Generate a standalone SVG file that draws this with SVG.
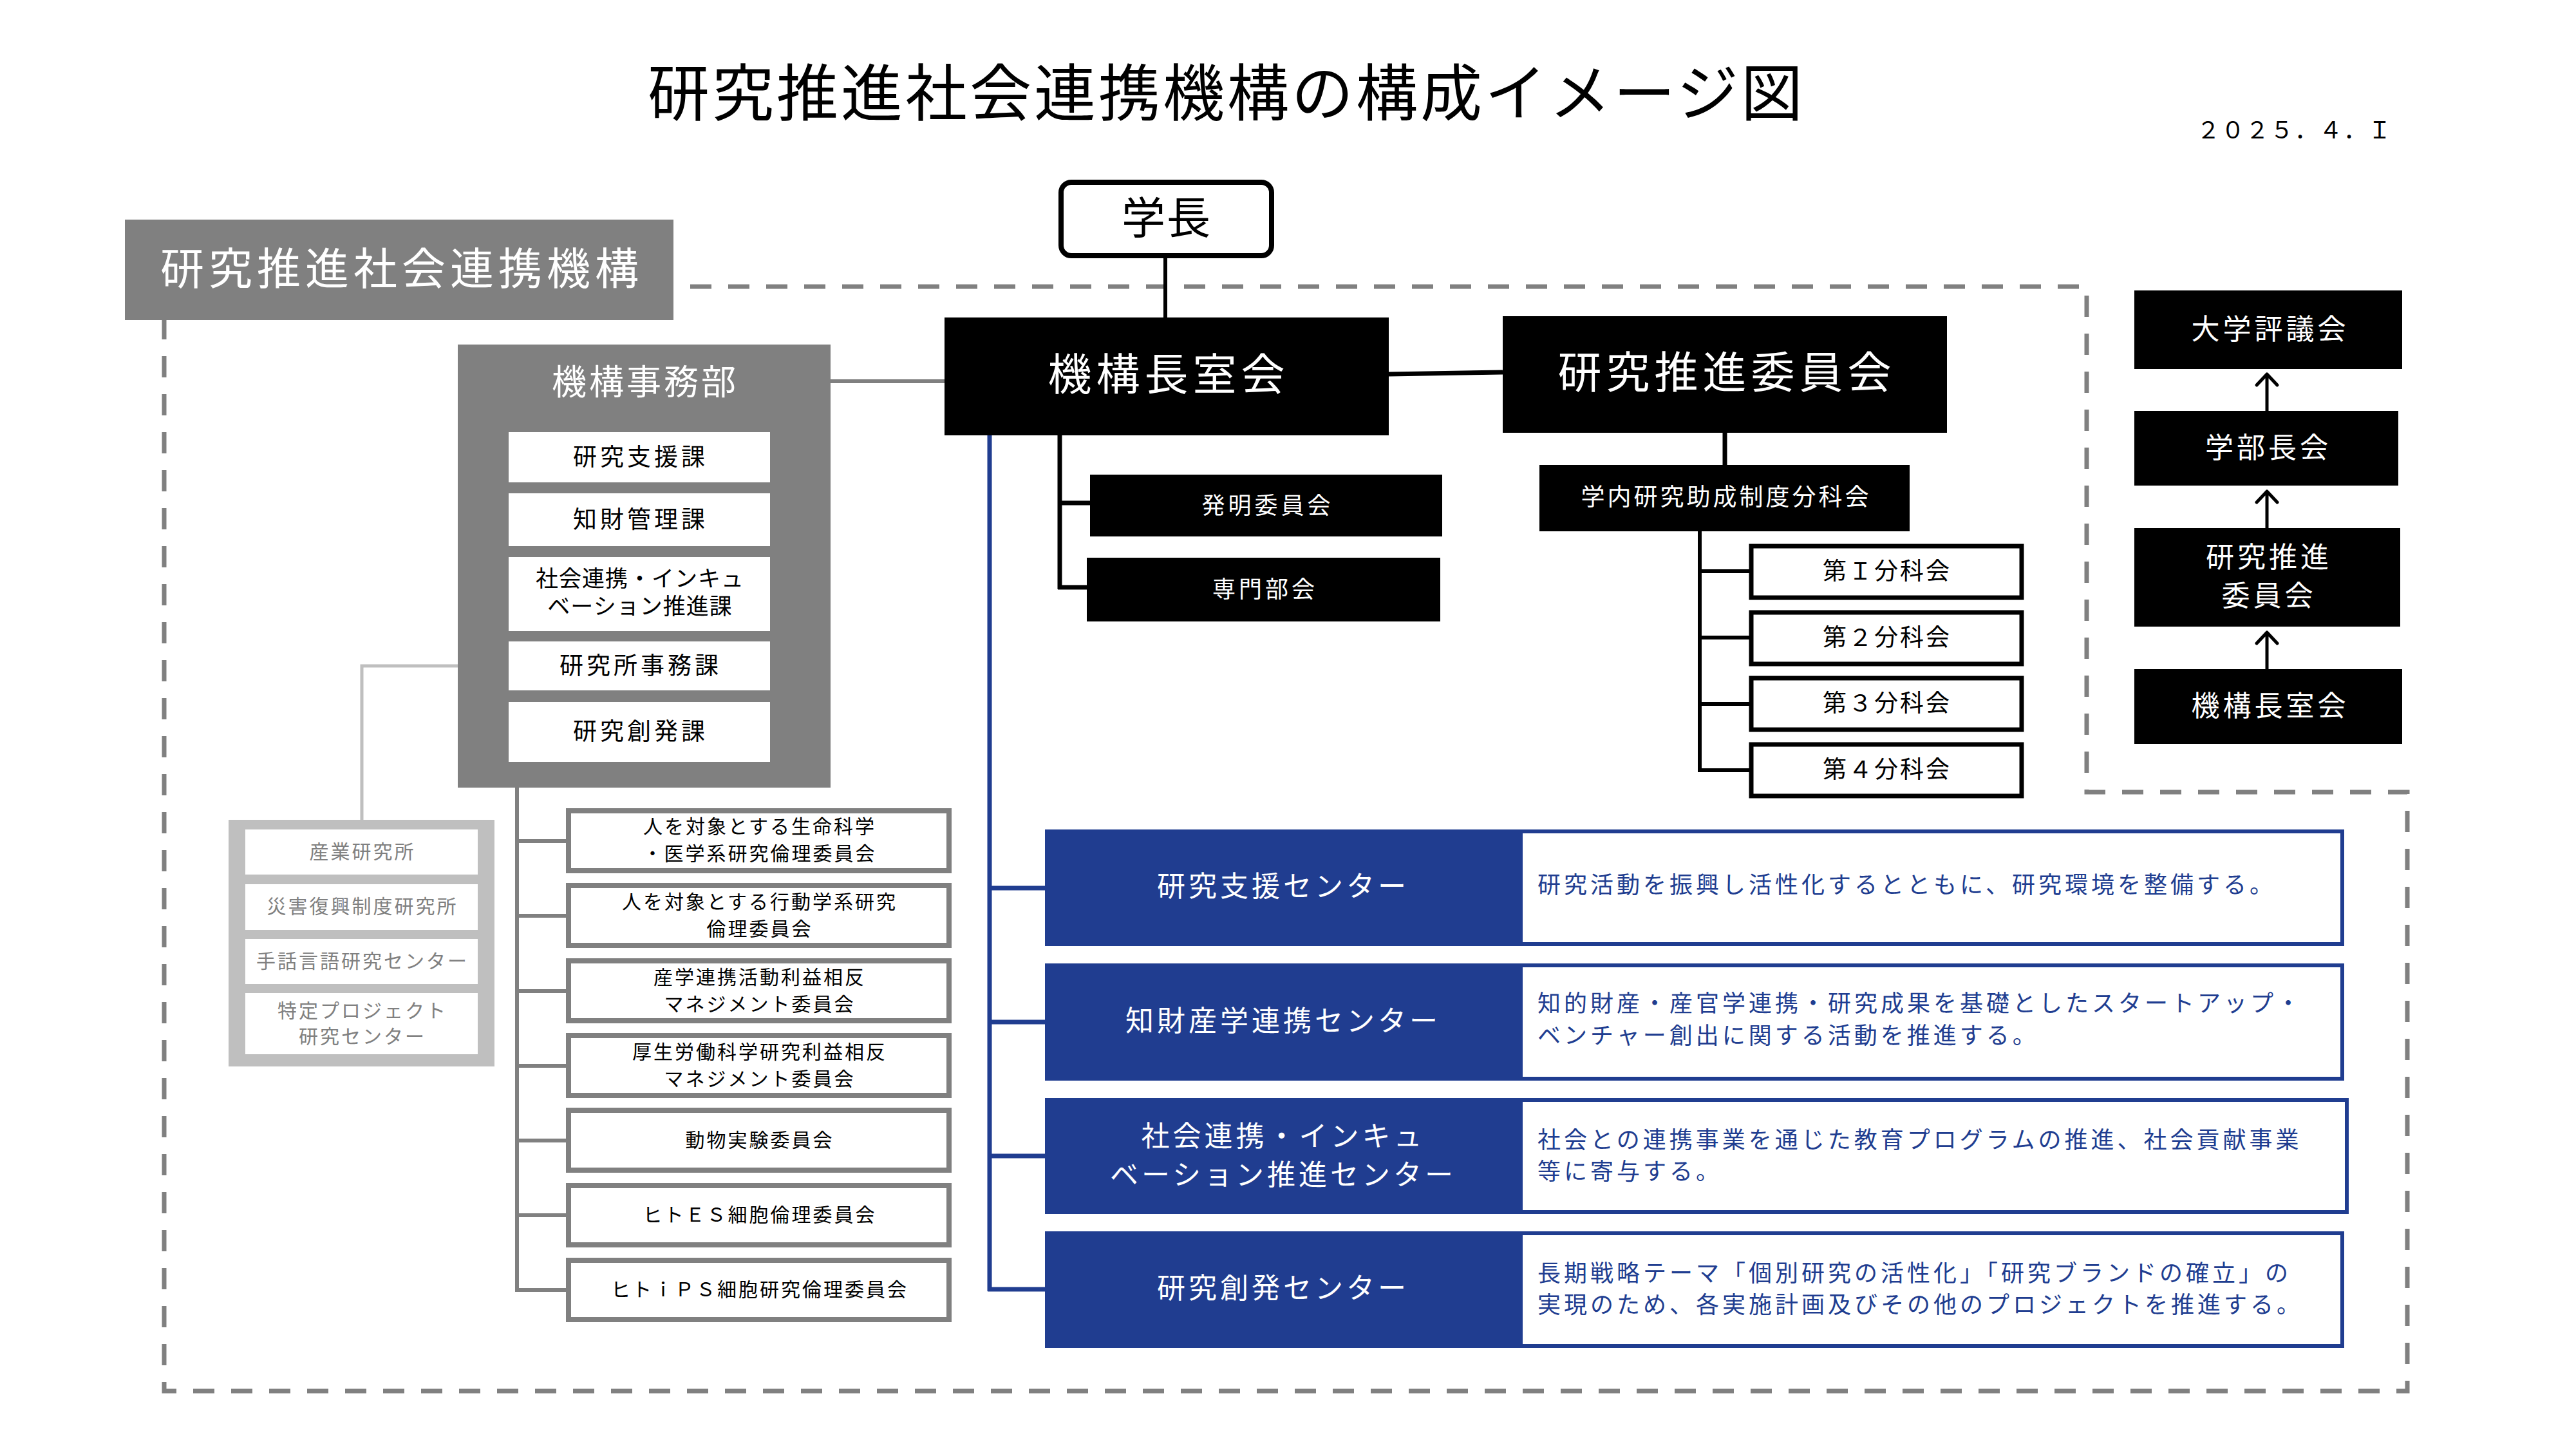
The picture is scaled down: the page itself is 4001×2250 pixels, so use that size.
<svg xmlns="http://www.w3.org/2000/svg" width="4001" height="2250" viewBox="0 0 4001 2250">
<style>
text{font-family:"Noto Sans CJK JP","Noto Sans CJK SC",sans-serif;dominant-baseline:central;text-anchor:middle;transform:translateY(-0.09em)}
.w{fill:#fff}
.k{fill:#000}
.g{fill:#808080}
.b{fill:#203d90}
.blk{fill:#000}
.gbox{fill:#808080}
.blue{fill:#203d90}
.f68{font-size:68px;letter-spacing:7px}
.f44{font-size:44px;letter-spacing:5px}
.f37{font-size:37px;letter-spacing:5px}
.f36{font-size:36px;letter-spacing:5px}
.f30{font-size:30px;letter-spacing:3px}
.cm{fill:#fff;stroke:#808080;stroke-width:8}
.sub{fill:#fff;stroke:#000;stroke-width:7}
.desc{fill:#fff;stroke:#203d90;stroke-width:6}
.ln{fill:none;stroke:#000;stroke-width:7}
.gl{fill:none;stroke:#808080;stroke-width:6}
.bl{fill:none;stroke:#203d90;stroke-width:7}
.ar{fill:none;stroke:#000;stroke-width:5;stroke-linejoin:round;stroke-linecap:round}
</style>

<text x="1905" y="146" style="font-size:96px;letter-spacing:4px">研究推進社会連携機構の構成イメージ図</text>
<text x="3412" y="202" style="font-size:36px;letter-spacing:2px;text-anchor:start">２０２５．４．Ｉ</text>

<g id="connectors">
  <path d="M1072,445 H3241 V1230 H3739 V2160 H255 V497" fill="none" stroke="#808080" stroke-width="7" stroke-dasharray="33 26"/>
  <line class="ln" x1="1810" y1="401" x2="1810" y2="493" style="stroke-width:6"/>
  <line class="ln" x1="2157" y1="581" x2="2334" y2="578"/>
  <line class="gl" x1="1290" y1="592" x2="1467" y2="592"/>
  <path class="ln" d="M1646,676 V915 M1643,781 H1693 M1643,912 H1688" style="stroke-width:7"/>
  <line class="ln" x1="2679" y1="672" x2="2679" y2="722"/>
  <path class="ln" d="M2640,825 V1197 M2637,887 H2717 M2637,990 H2717 M2637,1093 H2717 M2637,1196 H2717" style="stroke-width:6"/>
  <path d="M790,1034 H562 V1273" fill="none" stroke="#bfbfbf" stroke-width="5"/>
  <path class="gl" d="M803,1223 V2006 M800,1306 H879 M800,1422 H879 M800,1539 H879 M800,1655 H879 M800,1771 H879 M800,1887 H879 M800,2003 H879"/>
  <path class="bl" d="M1537,676 V2005 M1534,1379 H1623 M1534,1587 H1623 M1534,1795 H1623 M1534,2002 H1623"/>
  <path class="ar" d="M3521,638 V582 M3505,598 L3521,581 L3537,598"/>
  <path class="ar" d="M3521,820 V764 M3505,780 L3521,763 L3537,780"/>
  <path class="ar" d="M3521,1039 V983 M3505,999 L3521,982 L3537,999"/>
</g>

<g id="gakucho">
  <rect x="1648" y="283" width="327" height="114" rx="16" fill="#fff" stroke="#000" stroke-width="8"/>
  <text x="1812" y="340" style="font-size:68px;letter-spacing:2px">学長</text>
</g>

<g id="kiko-label">
  <rect class="gbox" x="194" y="341" width="852" height="156"/>
  <text class="w f68" x="624" y="419">研究推進社会連携機構</text>
</g>

<g id="kikochoshitsukai">
  <rect class="blk" x="1467" y="493" width="690" height="183"/>
  <text class="w f68" x="1815" y="583">機構長室会</text>
</g>

<g id="kenkyusuishin">
  <rect class="blk" x="2334" y="491" width="690" height="181"/>
  <text class="w f68" x="2682" y="580">研究推進委員会</text>
</g>

<g id="hatsumei">
  <rect class="blk" x="1693" y="737" width="547" height="96"/>
  <text class="w f36" x="1969" y="785">発明委員会</text>
</g>
<g id="senmonbukai">
  <rect class="blk" x="1688" y="866" width="549" height="99"/>
  <text class="w f36" x="1965" y="915">専門部会</text>
</g>

<g id="gakunai">
  <rect class="blk" x="2391" y="722" width="575" height="103"/>
  <text class="w f37" x="2681" y="772" style="letter-spacing:4px">学内研究助成制度分科会</text>
</g>
<g id="bunkakai1"><rect class="sub" x="2720" y="848" width="420" height="80"/><text class="f37" x="2931" y="887" style="letter-spacing:3px">第Ｉ分科会</text></g>
<g id="bunkakai2"><rect class="sub" x="2720" y="951" width="420" height="80"/><text class="f37" x="2931" y="990" style="letter-spacing:3px">第２分科会</text></g>
<g id="bunkakai3"><rect class="sub" x="2720" y="1053" width="420" height="80"/><text class="f37" x="2931" y="1092" style="letter-spacing:3px">第３分科会</text></g>
<g id="bunkakai4"><rect class="sub" x="2720" y="1156" width="420" height="80"/><text class="f37" x="2931" y="1195" style="letter-spacing:3px">第４分科会</text></g>

<g id="jimubu">
  <rect class="gbox" x="711" y="535" width="579" height="688"/>
  <text class="w" x="1002" y="594" style="font-size:54px;letter-spacing:4px">機構事務部</text>
  <rect fill="#fff" x="790" y="671" width="406" height="78"/>
  <text class="f37" x="995" y="710">研究支援課</text>
  <rect fill="#fff" x="790" y="766" width="406" height="82"/>
  <text class="f37" x="995" y="807">知財管理課</text>
  <rect fill="#fff" x="790" y="865" width="406" height="115"/>
  <text x="994" y="899" style="font-size:35px;letter-spacing:1px">社会連携・インキュ</text>
  <text x="994" y="942" style="font-size:35px;letter-spacing:1px">ベーション推進課</text>
  <rect fill="#fff" x="790" y="996" width="406" height="76"/>
  <text class="f37" x="995" y="1034">研究所事務課</text>
  <rect fill="#fff" x="790" y="1090" width="406" height="93"/>
  <text class="f37" x="995" y="1136">研究創発課</text>
</g>

<g id="kenkyusho">
  <rect fill="#bfbfbf" x="355" y="1273" width="413" height="383"/>
  <rect fill="#fff" x="381" y="1288" width="361" height="70"/>
  <text class="g f30" x="563" y="1323">産業研究所</text>
  <rect fill="#fff" x="381" y="1373" width="361" height="71"/>
  <text class="g f30" x="563" y="1408">災害復興制度研究所</text>
  <rect fill="#fff" x="381" y="1458" width="361" height="70"/>
  <text class="g f30" x="563" y="1493">手話言語研究センター</text>
  <rect fill="#fff" x="381" y="1542" width="361" height="95"/>
  <text class="g f30" x="563" y="1570">特定プロジェクト</text>
  <text class="g f30" x="563" y="1610">研究センター</text>
</g>

<g id="committee1"><rect class="cm" x="883" y="1259" width="591" height="93"/>
  <text class="f30" x="1180" y="1284">人を対象とする生命科学</text>
  <text class="f30" x="1180" y="1326">・医学系研究倫理委員会</text></g>
<g id="committee2"><rect class="cm" x="883" y="1375" width="591" height="93"/>
  <text class="f30" x="1180" y="1401">人を対象とする行動学系研究</text>
  <text class="f30" x="1180" y="1443">倫理委員会</text></g>
<g id="committee3"><rect class="cm" x="883" y="1492" width="591" height="93"/>
  <text class="f30" x="1180" y="1518">産学連携活動利益相反</text>
  <text class="f30" x="1180" y="1560">マネジメント委員会</text></g>
<g id="committee4"><rect class="cm" x="883" y="1608" width="591" height="93"/>
  <text class="f30" x="1180" y="1634">厚生労働科学研究利益相反</text>
  <text class="f30" x="1180" y="1676">マネジメント委員会</text></g>
<g id="committee5"><rect class="cm" x="883" y="1724" width="591" height="93"/>
  <text class="f30" x="1180" y="1771">動物実験委員会</text></g>
<g id="committee6"><rect class="cm" x="883" y="1841" width="591" height="92"/>
  <text class="f30" x="1180" y="1887">ヒトＥＳ細胞倫理委員会</text></g>
<g id="committee7"><rect class="cm" x="883" y="1957" width="591" height="92"/>
  <text class="f30" x="1180" y="2003">ヒトｉＰＳ細胞研究倫理委員会</text></g>

<g id="center1">
  <rect class="blue" x="1623" y="1288" width="736" height="181"/>
  <rect class="desc" x="2362" y="1291" width="1276" height="175"/>
  <text class="w f44" x="1993" y="1377">研究支援センター</text>
  <text class="b f36" x="2388" y="1374" style="text-anchor:start">研究活動を振興し活性化するとともに、研究環境を整備する。</text>
</g>
<g id="center2">
  <rect class="blue" x="1623" y="1496" width="736" height="182"/>
  <rect class="desc" x="2362" y="1499" width="1276" height="176"/>
  <text class="w f44" x="1993" y="1586">知財産学連携センター</text>
  <text class="b f36" x="2388" y="1558" style="text-anchor:start">知的財産・産官学連携・研究成果を基礎としたスタートアップ・</text>
  <text class="b f36" x="2388" y="1608" style="text-anchor:start">ベンチャー創出に関する活動を推進する。</text>
</g>
<g id="center3">
  <rect class="blue" x="1623" y="1705" width="736" height="180"/>
  <rect class="desc" x="2362" y="1708" width="1283" height="174"/>
  <text class="w f44" x="1993" y="1765">社会連携・インキュ</text>
  <text class="w f44" x="1993" y="1825">ベーション推進センター</text>
  <text class="b f36" x="2388" y="1770" style="text-anchor:start">社会との連携事業を通じた教育プログラムの推進、社会貢献事業</text>
  <text class="b f36" x="2388" y="1819" style="text-anchor:start">等に寄与する。</text>
</g>
<g id="center4">
  <rect class="blue" x="1623" y="1912" width="736" height="181"/>
  <rect class="desc" x="2362" y="1915" width="1276" height="175"/>
  <text class="w f44" x="1993" y="2001">研究創発センター</text>
  <text class="b f36" x="2388" y="1977" style="text-anchor:start">長期戦略テーマ「個別研究の活性化」「研究ブランドの確立」の</text>
  <text class="b f36" x="2388" y="2026" style="text-anchor:start">実現のため、各実施計画及びその他のプロジェクトを推進する。</text>
</g>

<g id="daigakuhyogikai">
  <rect class="blk" x="3315" y="451" width="416" height="122"/>
  <text class="w f44" x="3526" y="512">大学評議会</text>
</g>
<g id="gakubuchokai">
  <rect class="blk" x="3315" y="638" width="410" height="116"/>
  <text class="w f44" x="3523" y="696">学部長会</text>
</g>
<g id="kenkyusuishin-r">
  <rect class="blk" x="3315" y="820" width="413" height="153"/>
  <text class="w f44" x="3524" y="866">研究推進</text>
  <text class="w f44" x="3524" y="926">委員会</text>
</g>
<g id="kikochoshitsukai-r">
  <rect class="blk" x="3315" y="1039" width="416" height="116"/>
  <text class="w f44" x="3526" y="1097">機構長室会</text>
</g>
</svg>
